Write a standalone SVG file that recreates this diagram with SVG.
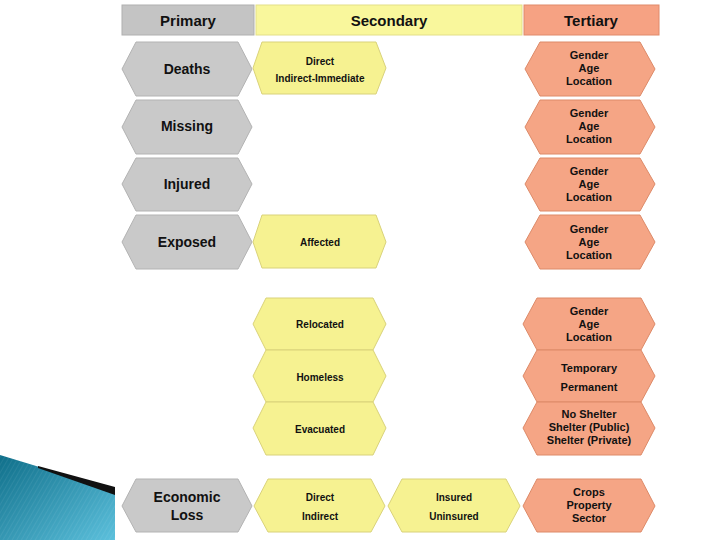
<svg xmlns="http://www.w3.org/2000/svg" width="720" height="540" viewBox="0 0 720 540">
<style>
.g{fill:#c9c9c9;stroke:#b3b3b3;stroke-width:1}
.y{fill:#f6f291;stroke:#d9d27a;stroke-width:1}
.o{fill:#f5a585;stroke:#dd8a68;stroke-width:1}
text{font-family:"Liberation Sans",Arial,sans-serif;font-weight:bold;fill:#111;text-anchor:middle;dominant-baseline:central}
.h{font-size:15px}
.p{font-size:14px}
.s{font-size:10px}
.m{font-size:11px}
</style>
<defs>
<linearGradient id="bl" x1="0" y1="0" x2="1" y2="1">
<stop offset="0" stop-color="#0f6f8a"/>
<stop offset="1" stop-color="#5cc0dc"/>
</linearGradient>
<pattern id="st" width="4" height="4" patternUnits="userSpaceOnUse" patternTransform="rotate(30)">
<rect width="4" height="4" fill="none"/>
<line x1="0" y1="0" x2="0" y2="4" stroke="#ffffff" stroke-opacity="0.12" stroke-width="1"/>
</pattern>
</defs>
<rect width="720" height="540" fill="#ffffff"/>
<g id="decor">
<polygon points="0,455 115,490 115,540 0,540" fill="url(#bl)"/>
<polygon points="0,455 115,490 115,540 0,540" fill="url(#st)"/>
<polygon points="38,466 115,487 115,495 38,468" fill="#111"/>
</g>
<g id="headers">
<g id="h-primary"><rect x="122" y="5" width="132" height="30" fill="#c4c4c4" stroke="#b0b0b0"/><text class="h" x="188" y="20">Primary</text></g>
<g id="h-secondary"><rect x="256" y="5" width="266" height="30" fill="#f9f79c" stroke="#e3df88"/><text class="h" x="389" y="20">Secondary</text></g>
<g id="h-tertiary"><rect x="524" y="5" width="135" height="30" fill="#f6a283" stroke="#e08a6a"/><text class="h" x="591" y="20">Tertiary</text></g>
</g>
<g id="connectors"></g>
<g id="deaths"><path class="g" d="M122,69 L136,42 L238,42 L252,69 L238,96 L136,96 Z"/><text class="p" x="187" y="69">Deaths</text></g>
<g id="deaths-sec"><path class="y" d="M253,68 L262,42 L376,42 L386,68 L376,94 L262,94 Z"/><text class="s" x="320" y="61">Direct</text><text class="s" x="320" y="78">Indirect-Immediate</text></g>
<g id="deaths-ter"><path class="o" d="M525,69 L540,42 L640,42 L655,69 L640,96 L540,96 Z"/><text class="m" x="589" y="55">Gender</text><text class="m" x="589" y="68">Age</text><text class="m" x="589" y="81">Location</text></g>
<g id="missing"><path class="g" d="M122,127 L136,100 L238,100 L252,127 L238,154 L136,154 Z"/><text class="p" x="187" y="126">Missing</text></g>
<g id="missing-ter"><path class="o" d="M525,127 L540,100 L640,100 L655,127 L640,154 L540,154 Z"/><text class="m" x="589" y="113">Gender</text><text class="m" x="589" y="126">Age</text><text class="m" x="589" y="139">Location</text></g>
<g id="injured"><path class="g" d="M122,184 L136,158 L238,158 L252,184 L238,211 L136,211 Z"/><text class="p" x="187" y="184">Injured</text></g>
<g id="injured-ter"><path class="o" d="M525,184 L540,158 L640,158 L655,184 L640,211 L540,211 Z"/><text class="m" x="589" y="171">Gender</text><text class="m" x="589" y="184">Age</text><text class="m" x="589" y="197">Location</text></g>
<g id="exposed"><path class="g" d="M122,242 L136,215 L238,215 L252,242 L238,269 L136,269 Z"/><text class="p" x="187" y="242">Exposed</text></g>
<g id="affected"><path class="y" d="M253,242 L262,215 L376,215 L386,242 L376,268 L262,268 Z"/><text class="s" x="320" y="242">Affected</text></g>
<g id="exposed-ter"><path class="o" d="M525,242 L540,215 L640,215 L655,242 L640,269 L540,269 Z"/><text class="m" x="589" y="229">Gender</text><text class="m" x="589" y="242">Age</text><text class="m" x="589" y="255">Location</text></g>
<g id="relocated"><path class="y" d="M253,324 L266,298 L373,298 L386,324 L373,350 L266,350 Z"/><text class="s" x="320" y="324">Relocated</text></g>
<g id="relocated-ter"><path class="o" d="M523,324 L537,298 L641,298 L655,324 L641,350 L537,350 Z"/><text class="m" x="589" y="311">Gender</text><text class="m" x="589" y="324">Age</text><text class="m" x="589" y="337">Location</text></g>
<g id="homeless"><path class="y" d="M253,376 L266,350 L373,350 L386,376 L373,402 L266,402 Z"/><text class="s" x="320" y="377">Homeless</text></g>
<g id="homeless-ter"><path class="o" d="M523,376 L537,350 L641,350 L655,376 L641,402 L537,402 Z"/><text class="m" x="589" y="368">Temporary</text><text class="m" x="589" y="387">Permanent</text></g>
<g id="evacuated"><path class="y" d="M253,428 L266,402 L373,402 L386,428 L373,455 L266,455 Z"/><text class="s" x="320" y="429">Evacuated</text></g>
<g id="evacuated-ter"><path class="o" d="M523,428 L537,402 L641,402 L655,428 L641,455 L537,455 Z"/><text class="m" x="589" y="414">No Shelter</text><text class="m" x="589" y="427">Shelter (Public)</text><text class="m" x="589" y="440">Shelter (Private)</text></g>
<g id="economic"><path class="g" d="M122,506 L136,479 L238,479 L252,506 L238,532 L136,532 Z"/><text class="p" x="187" y="497">Economic</text><text class="p" x="187" y="515">Loss</text></g>
<g id="economic-sec"><path class="y" d="M254,506 L268,479 L371,479 L385,506 L371,532 L268,532 Z"/><text class="s" x="320" y="497">Direct</text><text class="s" x="320" y="516">Indirect</text></g>
<g id="economic-ins"><path class="y" d="M388,506 L402,479 L506,479 L520,506 L506,532 L402,532 Z"/><text class="s" x="454" y="497">Insured</text><text class="s" x="454" y="516">Uninsured</text></g>
<g id="economic-ter"><path class="o" d="M523,506 L537,479 L641,479 L655,506 L641,532 L537,532 Z"/><text class="m" x="589" y="492">Crops</text><text class="m" x="589" y="505">Property</text><text class="m" x="589" y="518">Sector</text></g>
</svg>
